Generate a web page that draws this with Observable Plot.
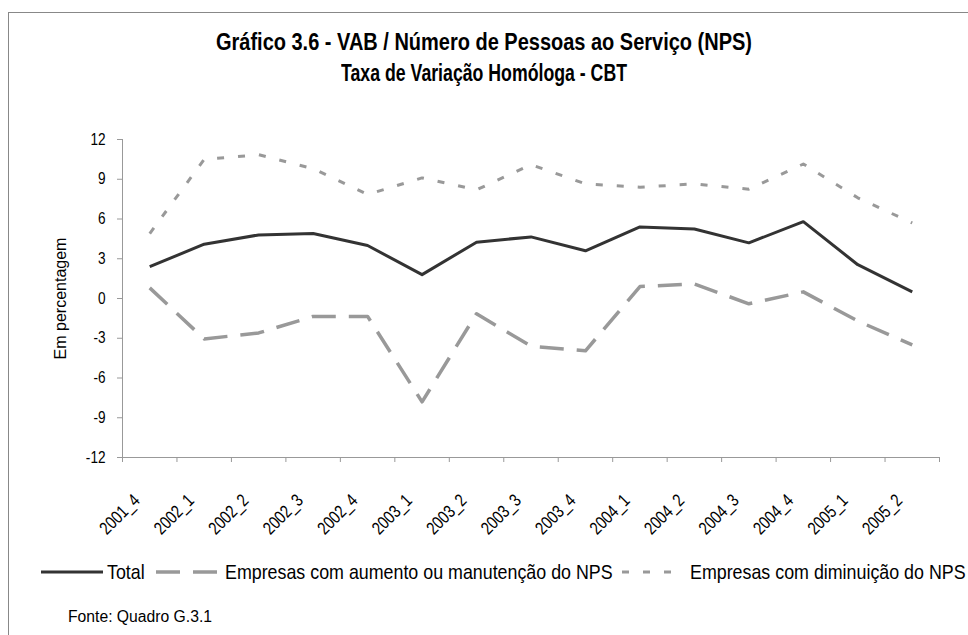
<!DOCTYPE html>
<html><head><meta charset="utf-8">
<script src="https://cdn.jsdelivr.net/npm/d3@7"></script>
<script src="https://cdn.jsdelivr.net/npm/@observablehq/plot@0.6"></script>
<style>
html,body{margin:0;padding:0;background:#fff}
body{width:968px;height:635px;overflow:hidden;position:relative;font-family:"Liberation Sans",Arial,sans-serif;color:#000}
#frame{position:absolute;left:8px;top:12px;width:980px;height:640px;border-left:1px solid #888;border-top:1px solid #888}
.fit{position:absolute;white-space:nowrap;transform-origin:0 50%}
.title{font-size:23px;line-height:26px;font-weight:bold}
#chart{position:absolute;left:0;top:100px}
#legend{position:absolute;left:0;top:558px;width:968px;height:30px}
#source{font-size:16px;line-height:20px}
</style></head><body>
<div id="frame"></div>
<span class="fit title" id="t1" data-left="216" data-width="536" style="top:29px">Gráfico 3.6 - VAB / Número de Pessoas ao Serviço (NPS)</span>
<span class="fit title" id="t2" data-left="341" data-width="286" style="top:60px">Taxa de Variação Homóloga - CBT</span>
<div id="chart"></div>
<svg id="legend" width="968" height="30"></svg>
<span class="fit" id="source" data-left="68" data-width="144" style="top:607px">Fonte: Quadro G.3.1</span>
<script>
const periods = ["2001_4","2002_1","2002_2","2002_3","2002_4","2003_1","2003_2","2003_3","2003_4","2004_1","2004_2","2004_3","2004_4","2005_1","2005_2"];
const total = [2.4, 4.1, 4.8, 4.9, 4.0, 1.8, 4.25, 4.65, 3.6, 5.4, 5.25, 4.2, 5.8, 2.55, 0.5];
const aumento = [0.8, -3.05, -2.6, -1.35, -1.35, -7.8, -1.15, -3.6, -3.95, 0.9, 1.1, -0.4, 0.5, -1.7, -3.5];
const diminuicao = [4.9, 10.5, 10.85, 9.8, 7.85, 9.1, 8.2, 10.1, 8.65, 8.4, 8.65, 8.25, 10.15, 7.6, 5.7];
const yTicks = [-12, -9, -6, -3, 0, 3, 6, 9, 12];
const seriesNames = ["Total", "Empresas com aumento ou manutenção do NPS", "Empresas com diminuição do NPS"];

const seriesStyle = {
  "Total": {stroke: "#333333", strokeWidth: 3, dash: null},
  "Empresas com aumento ou manutenção do NPS": {stroke: "#999999", strokeWidth: 3.5, dash: "24,13"},
  "Empresas com diminuição do NPS": {stroke: "#999999", strokeWidth: 3, dash: "7,14"}
};

const seriesValues = [total, aumento, diminuicao];
const rows = [];
seriesNames.forEach((s, k) => periods.forEach((p, i) => rows.push({series: s, period: p, pos: i + 0.5, value: seriesValues[k][i]})));

const font = '"Liberation Sans",Arial,sans-serif';

const chart = Plot.plot({
  width: 968,
  height: 450,
  marginLeft: 122,
  marginRight: 29,
  marginTop: 39,
  marginBottom: 93,
  style: {fontFamily: font, fontSize: "16px", background: "transparent", color: "#000"},
  x: {type: "linear", domain: [0, periods.length], axis: null},
  y: {domain: [-12, 12], axis: null},
  marks: [
    Plot.ruleX([0], {stroke: "#999", strokeWidth: 1}),
    Plot.ruleY([-12], {stroke: "#999", strokeWidth: 1}),
    Plot.axisY(yTicks, {tickSize: 5, tickPadding: 12, stroke: "#999", fill: "#000", tickFormat: d => String(d), label: "Em percentagem", labelAnchor: "center", labelArrow: "none", labelOffset: 68, fontSize: 16}),
    Plot.axisX(d3.range(periods.length + 1), {tickSize: 5, stroke: "#999", tickFormat: () => "", label: null}),
    Plot.axisX(periods.map((p, i) => i + 0.5), {tickSize: 0, tickPadding: 40, dx: -13, tickRotate: -45, tickFormat: d => periods[Math.floor(d)], fill: "#000", label: null, fontSize: 18}),
    ...seriesNames.map(s => Plot.lineY(rows.filter(r => r.series === s), {
      x: "pos", y: "value",
      stroke: seriesStyle[s].stroke,
      strokeWidth: seriesStyle[s].strokeWidth,
      strokeDasharray: seriesStyle[s].dash,
      strokeLinejoin: "round",
      strokeLinecap: "butt"
    }))
  ]
});
document.getElementById("chart").appendChild(chart);

// condense tick labels (narrow face look): scale along the text direction
function condense(t, s) {
  const tr = t.getAttribute("transform") || "";
  t.setAttribute("transform", `${tr} scale(${s},1)`);
}
chart.querySelectorAll('g[aria-label="y-axis tick label"] text').forEach(t => condense(t, 0.85));
chart.querySelectorAll('g[aria-label="x-axis tick label"] text').forEach(t => condense(t, 0.8));

// fit HTML texts to their measured widths in the reference
document.querySelectorAll(".fit").forEach(el => {
  const w = el.getBoundingClientRect().width;
  const s = (+el.dataset.width) / w;
  el.style.left = el.dataset.left + "px";
  el.style.transform = `scaleX(${s})`;
});

// Legend
const lg = d3.select("#legend");
const legendItems = [
  {name: seriesNames[0], x1: 41, x2: 103, tx: 107},
  {name: seriesNames[1], x1: 156, x2: 218, tx: 225},
  {name: seriesNames[2], x1: 622, x2: 684, tx: 690}
];
const legendTexts = [];
legendItems.forEach(it => {
  const st = seriesStyle[it.name];
  lg.append("line").attr("x1", it.x1).attr("x2", it.x2).attr("y1", 14).attr("y2", 14)
    .attr("stroke", st.stroke).attr("stroke-width", st.strokeWidth)
    .attr("stroke-dasharray", st.dash);
  legendTexts.push(lg.append("text").attr("x", 0).attr("y", 0).attr("font-size", 20)
    .attr("font-family", font).text(it.name).attr("data-tx", it.tx));
});
const lw = legendTexts[1].node().getComputedTextLength();
const ls = 388 / lw;
legendTexts.forEach(t => t.attr("transform", `translate(${t.attr("data-tx")},21) scale(${ls},1)`));
</script>
</body></html>
